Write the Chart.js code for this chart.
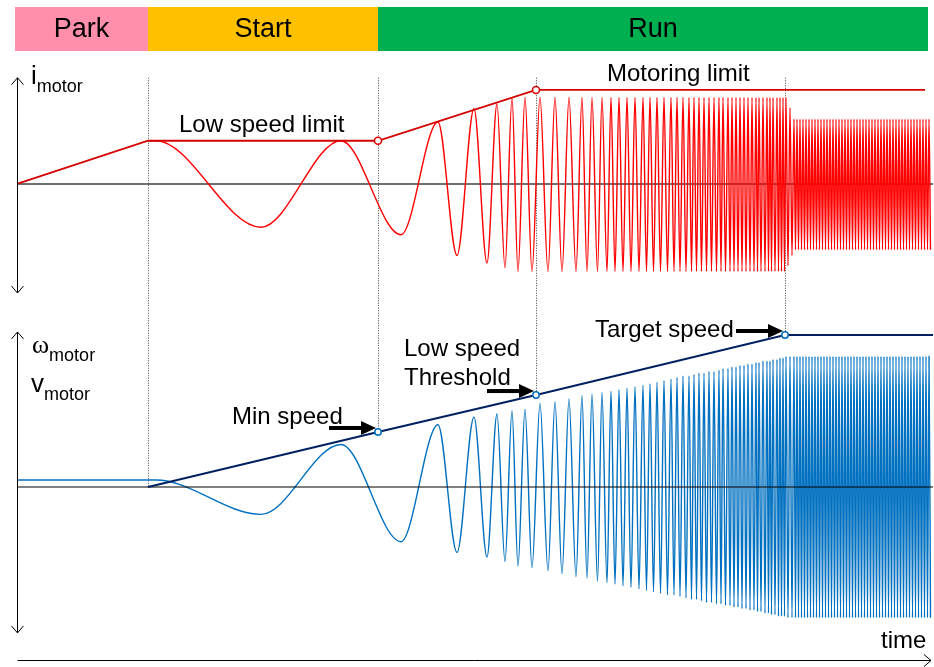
<!DOCTYPE html>
<html>
<head>
<meta charset="utf-8">
<script src="https://cdn.jsdelivr.net/npm/chart.js@4.4.1/dist/chart.umd.min.js"></script>
<style>
  html, body { margin: 0; padding: 0; background: #fff; }
  #wrap { width: 934px; height: 667px; }
</style>
</head>
<body>
<div id="wrap"><canvas id="motorChart" width="934" height="667"></canvas></div>
<script>
// time in ms, current in A, speed in % of target speed
const phaseNames = ['Park', 'Start', 'Run'];
const phaseBounds = [-20, 1310, 3610, 9110];

// current limit (park ramp, low speed limit, ramp, motoring limit)
const limitT = [0, 1310, 3610, 5190, 9080];
const limitI = [0, 4.6, 4.6, 10, 10];

// speed reference ramp: park end, min speed, low speed threshold, target speed
const rampT = [1310, 3610, 5190, 7680, 9160];
const rampW = [0, 36.2, 60.5, 100, 100];

// speed during park
const parkT = [0];
const parkW = [4.6];

// turning points of the motor signals (start + ramp)
const sigT = [1310, 1390, 2440, 3240, 3840, 4210, 4400, 4570, 4700, 4800,
  4880, 4950, 5010, 5080, 5150, 5230, 5310, 5380, 5450, 5520,
  5590, 5650, 5700, 5750, 5805, 5850, 5900, 5940, 5980, 6020,
  6060, 6100, 6140, 6180, 6220, 6260, 6295, 6330, 6365, 6400,
  6435, 6470, 6505, 6540, 6570, 6600, 6630, 6660, 6690, 6720,
  6745, 6770, 6795, 6820, 6845, 6870, 6895, 6920, 6945, 6970,
  6995, 7020, 7040, 7060, 7085, 7110, 7130, 7150, 7170, 7190,
  7210, 7230, 7250, 7270, 7290, 7310, 7330, 7350, 7370, 7390,
  7405, 7420, 7440, 7460, 7480, 7500, 7515, 7530, 7545, 7560,
  7580, 7600, 7615, 7630, 7645, 7660, 7675, 7690, 7710, 7730,
  7750, 7770];
const sigI = [4.6, 4.6, -4.6, 4.6, -5.4, 6.6, -7.6, 8.0, -8.4, 8.5,
  -8.9, 9.2, -9.3, 9.2, -9.3, 9.2, -9.3, 9.2, -9.3, 9.2,
  -9.3, 9.2, -9.3, 9.2, -9.3, 9.2, -9.3, 9.2, -9.3, 9.2,
  -9.3, 9.2, -9.3, 9.2, -9.3, 9.2, -9.3, 9.2, -9.3, 9.2,
  -9.3, 9.2, -9.3, 9.2, -9.3, 9.2, -9.3, 9.2, -9.3, 9.2,
  -9.3, 9.2, -9.3, 9.2, -9.3, 9.2, -9.3, 9.2, -9.3, 9.2,
  -9.3, 9.2, -9.3, 9.2, -9.3, 9.2, -9.3, 9.2, -9.3, 9.2,
  -9.3, 9.2, -9.3, 9.2, -9.3, 9.2, -9.3, 9.2, -9.3, 9.2,
  -9.3, 9.2, -9.3, 9.2, -9.3, 9.2, -9.3, 9.2, -9.3, 9.2,
  -9.3, 9.2, -9.3, 9.2, -9.3, 9.2, -9.3, 9.2, -8.7, 8.1,
  -7.6, 6.9];
const sigW = [4.6, 4.6, -18, 28, -36, 41, -43, 46, -46, 48,
  -49, 50, -52, 51, -53, 55, -55, 56, -57, 58,
  -59, 60, -60, 61, -62, 62, -63, 63, -64, 64,
  -65, 65, -66, 66, -67, 67, -68, 68, -69, 69,
  -70, 70, -71, 71, -71, 72, -72, 73, -73, 73,
  -74, 74, -74, 75, -75, 75, -76, 76, -76, 76,
  -77, 77, -77, 78, -78, 78, -78, 79, -79, 79,
  -79, 80, -80, 80, -80, 81, -81, 81, -81, 82,
  -82, 82, -82, 83, -83, 83, -83, 83, -84, 84,
  -84, 84, -85, 85, -85, 85, -85, 86, -86, 86,
  -86, 86];

// turning points at target speed
const steadyT = [7785, 7800, 7815, 7830, 7845, 7860, 7875, 7890, 7905, 7920,
  7935, 7950, 7965, 7980, 7995, 8010, 8025, 8040, 8055, 8070,
  8085, 8100, 8115, 8130, 8145, 8160, 8175, 8190, 8205, 8220,
  8235, 8250, 8265, 8280, 8295, 8310, 8325, 8340, 8355, 8370,
  8385, 8400, 8415, 8430, 8445, 8460, 8475, 8490, 8505, 8520,
  8535, 8550, 8565, 8580, 8595, 8610, 8625, 8640, 8655, 8670,
  8685, 8700, 8715, 8730, 8745, 8760, 8775, 8790, 8805, 8820,
  8835, 8850, 8865, 8880, 8895, 8910, 8925, 8940, 8955, 8970,
  8985, 9000, 9015, 9030, 9045, 9060, 9075, 9090, 9105, 9120,
  9135];
const steadyI = [-7, 6.9, -7, 6.9, -7, 6.9, -7, 6.9, -7, 6.9,
  -7, 6.9, -7, 6.9, -7, 6.9, -7, 6.9, -7, 6.9,
  -7, 6.9, -7, 6.9, -7, 6.9, -7, 6.9, -7, 6.9,
  -7, 6.9, -7, 6.9, -7, 6.9, -7, 6.9, -7, 6.9,
  -7, 6.9, -7, 6.9, -7, 6.9, -7, 6.9, -7, 6.9,
  -7, 6.9, -7, 6.9, -7, 6.9, -7, 6.9, -7, 6.9,
  -7, 6.9, -7, 6.9, -7, 6.9, -7, 6.9, -7, 6.9,
  -7, 6.9, -7, 6.9, -7, 6.9, -7, 6.9, -7, 6.9,
  -7, 6.9, -7, 6.9, -7, 6.9, -7, 6.9, -7, 6.9,
  -7];
const steadyW = [-86, 86, -86, 86, -86, 86, -86, 86, -86, 86,
  -86, 86, -86, 86, -86, 86, -86, 86, -86, 86,
  -86, 86, -86, 86, -86, 86, -86, 86, -86, 86,
  -86, 86, -86, 86, -86, 86, -86, 86, -86, 86,
  -86, 86, -86, 86, -86, 86, -86, 86, -86, 86,
  -86, 86, -86, 86, -86, 86, -86, 86, -86, 86,
  -86, 86, -86, 86, -86, 86, -86, 86, -86, 86,
  -86, 86, -86, 86, -86, 86, -86, 86, -86, 86,
  -86, 86, -86, 86, -86, 86, -86, 86, -86, 86,
  -86];

const pts = (ts, vs) => ts.map((t, i) => ({ x: t, y: vs[i] }));

const currentData = pts(sigT, sigI).concat(pts(steadyT, steadyI));
const speedData = pts(parkT, parkW).concat(pts(sigT, sigW), pts(steadyT, steadyW));

function arrowHead(ctx, x, y, dir) {
  // open "V" arrow head, dir: 'up' | 'down' | 'right'
  ctx.beginPath();
  if (dir === 'up') { ctx.moveTo(x - 6, y + 7); ctx.lineTo(x, y); ctx.lineTo(x + 6, y + 7); }
  if (dir === 'down') { ctx.moveTo(x - 6, y - 7); ctx.lineTo(x, y); ctx.lineTo(x + 6, y - 7); }
  if (dir === 'right') { ctx.moveTo(x - 7, y - 6); ctx.lineTo(x, y); ctx.lineTo(x - 7, y + 6); }
  ctx.stroke();
}

function pointer(ctx, tipX, tipY) {
  // thick black arrow pointing right
  ctx.fillStyle = '#000';
  ctx.fillRect(tipX - 47, tipY - 2, 34, 4);
  ctx.beginPath();
  ctx.moveTo(tipX - 15, tipY - 7);
  ctx.lineTo(tipX, tipY);
  ctx.lineTo(tipX - 15, tipY + 7);
  ctx.closePath();
  ctx.fill();
}

function subLabel(ctx, x, y, main, sub, mainFont) {
  ctx.font = mainFont;
  ctx.fillText(main, x, y);
  const w = ctx.measureText(main).width;
  ctx.font = '18px "Liberation Sans", Arial, sans-serif';
  ctx.fillText(sub, x + w, y + 8);
}

const diagram = {
  id: 'diagram',
  beforeDatasetsDraw(chart) {
    const { ctx } = chart;
    const { x, yI, yW } = chart.scales;
    const phaseColors = ['#ff8fab', '#ffc000', '#00b050'];
    ctx.save();
    // phase bar
    phaseNames.forEach((name, i) => {
      const x0 = x.getPixelForValue(phaseBounds[i]);
      const x1 = x.getPixelForValue(phaseBounds[i + 1]);
      ctx.fillStyle = phaseColors[i];
      ctx.fillRect(x0, 7, x1 - x0, 44);
      ctx.fillStyle = '#000';
      ctx.font = '27px "Liberation Sans", Arial, sans-serif';
      ctx.textAlign = 'center';
      ctx.textBaseline = 'middle';
      ctx.fillText(name, (x0 + x1) / 2, 30);
    });
    // dotted event lines, down to the speed ramp
    ctx.strokeStyle = '#444';
    ctx.lineWidth = 1;
    ctx.setLineDash([1, 1.5]);
    for (let i = 0; i < 4; i++) {
      const px = Math.round(x.getPixelForValue(rampT[i])) + 0.5;
      ctx.beginPath();
      ctx.moveTo(px, yI.getPixelForValue(11.3));
      ctx.lineTo(px, yW.getPixelForValue(rampW[i]));
      ctx.stroke();
    }
    ctx.restore();
  },
  afterDatasetsDraw(chart) {
    const { ctx } = chart;
    const { x, yI, yW } = chart.scales;
    const x0 = Math.round(x.getPixelForValue(0)) + 0.5;
    ctx.save();
    ctx.strokeStyle = '#000';
    ctx.lineWidth = 1;
    // current axis
    let top = yI.getPixelForValue(11.3), bot = yI.getPixelForValue(-11.6);
    ctx.beginPath(); ctx.moveTo(x0, top); ctx.lineTo(x0, bot); ctx.stroke();
    arrowHead(ctx, x0, top, 'up'); arrowHead(ctx, x0, bot, 'down');
    // speed axis
    top = yW.getPixelForValue(102); bot = yW.getPixelForValue(-96);
    ctx.beginPath(); ctx.moveTo(x0, top); ctx.lineTo(x0, bot); ctx.stroke();
    arrowHead(ctx, x0, top, 'up'); arrowHead(ctx, x0, bot, 'down');
    // time axis
    const ty = Math.round(yW.getPixelForValue(-113.8)) + 0.5;
    const tx1 = x.getPixelForValue(9140);
    ctx.beginPath(); ctx.moveTo(x0, ty); ctx.lineTo(tx1, ty); ctx.stroke();
    arrowHead(ctx, tx1, ty, 'right');

    // pointers at speed events
    for (let i = 1; i <= 3; i++) {
      pointer(ctx, x.getPixelForValue(rampT[i]) - 2, yW.getPixelForValue(rampW[i]) - 4);
    }

    // labels
    ctx.fillStyle = '#000';
    ctx.textAlign = 'left';
    ctx.textBaseline = 'alphabetic';
    const f24 = '24px "Liberation Sans", Arial, sans-serif';
    ctx.font = f24;
    ctx.fillText('Low speed limit', 179, 132);
    ctx.fillText('Motoring limit', 607, 81);
    ctx.fillText('Min speed', 232, 424);
    ctx.fillText('Low speed', 404, 356);
    ctx.fillText('Threshold', 404, 385);
    ctx.fillText('Target speed', 595, 337);
    ctx.fillText('time', 881, 648);
    subLabel(ctx, 31, 84, 'i', 'motor', '26px "Liberation Sans", Arial, sans-serif');
    subLabel(ctx, 32, 353, 'ω', 'motor', '26px "Liberation Serif", serif');
    subLabel(ctx, 31, 392, 'v', 'motor', '26px "Liberation Sans", Arial, sans-serif');
    ctx.restore();
  }
};

new Chart(document.getElementById('motorChart'), {
  type: 'line',
  data: {
    datasets: [
      {
        label: 'i axis',
        data: [{ x: 0, y: 0 }, { x: 9160, y: 0 }],
        yAxisID: 'yI',
        borderColor: '#404040',
        borderWidth: 1.6,
        pointRadius: 0,
        order: 10
      },
      {
        label: 'Current limit',
        data: pts(limitT, limitI),
        yAxisID: 'yI',
        borderColor: '#d40000',
        borderWidth: 1.8,
        pointRadius: limitT.map((t, i) => (i === 2 || i === 3 ? 3.5 : 0)),
        pointBackgroundColor: '#fff',
        pointBorderColor: '#e00000',
        pointBorderWidth: 1.5,
        order: 1
      },
      {
        label: 'i motor',
        data: currentData,
        yAxisID: 'yI',
        borderColor: '#ff0000',
        borderWidth: 1.4,
        pointRadius: 0,
        cubicInterpolationMode: 'monotone',
        order: 5
      },
      {
        label: 'w motor',
        data: speedData,
        yAxisID: 'yW',
        borderColor: '#0070c0',
        borderWidth: 1.4,
        pointRadius: 0,
        cubicInterpolationMode: 'monotone',
        order: 5
      },
      {
        label: 'w axis',
        data: [{ x: 0, y: 0 }, { x: 9160, y: 0 }],
        yAxisID: 'yW',
        borderColor: '#000',
        borderWidth: 1.2,
        pointRadius: 0,
        order: 2
      },
      {
        label: 'Speed ramp',
        data: pts(rampT, rampW),
        yAxisID: 'yW',
        borderColor: '#002060',
        borderWidth: 2,
        pointRadius: rampT.map((t, i) => (i >= 1 && i <= 3 ? 3.2 : 0)),
        pointBackgroundColor: '#fff',
        pointBorderColor: '#0070c0',
        pointBorderWidth: 1.5,
        order: 1
      }
    ]
  },
  options: {
    responsive: false,
    animation: false,
    events: [],
    layout: { padding: 0 },
    plugins: { legend: { display: false }, tooltip: { enabled: false } },
    scales: {
      x: { type: 'linear', display: false, min: -170, max: 9170 },
      yI: { type: 'linear', display: false, min: -51.38, max: 19.57 },
      yW: { type: 'linear', display: false, min: -118.42, max: 320.39 }
    }
  },
  plugins: [diagram]
});
</script>
</body>
</html>
